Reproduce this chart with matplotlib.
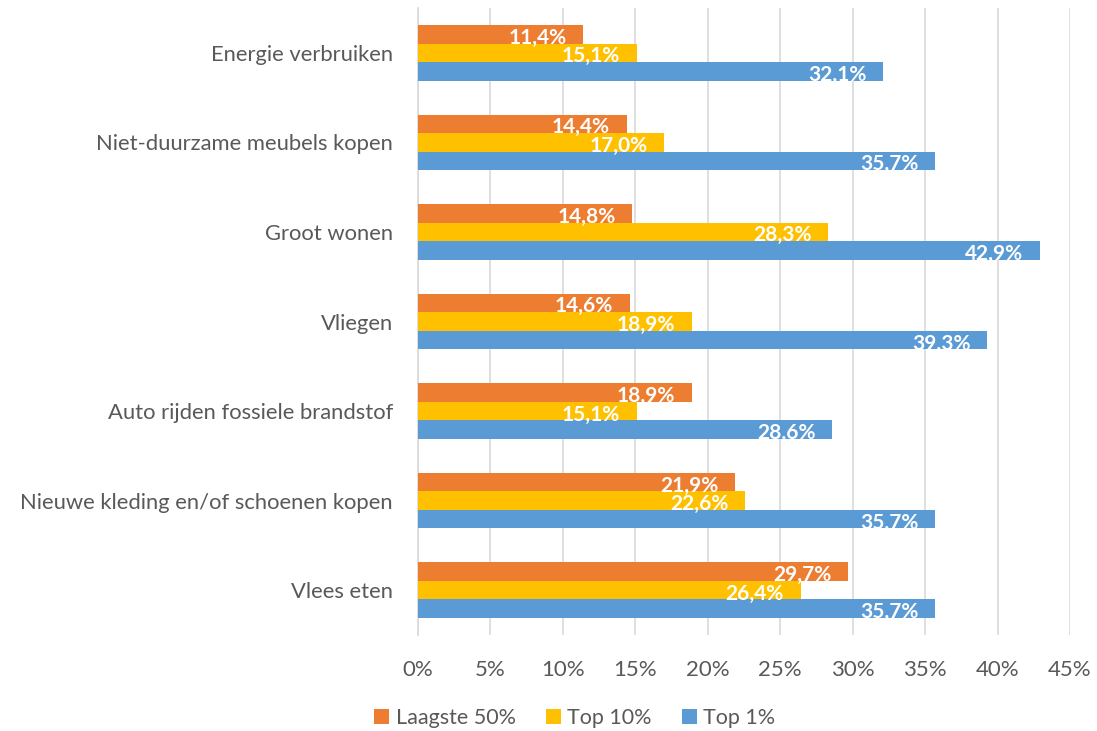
import matplotlib
matplotlib.use("Agg")
import matplotlib.pyplot as plt
from matplotlib.patches import Patch
import numpy as np

categories = [
    "Energie verbruiken",
    "Niet-duurzame meubels kopen",
    "Groot wonen",
    "Vliegen",
    "Auto rijden fossiele brandstof",
    "Nieuwe kleding en/of schoenen kopen",
    "Vlees eten",
]
series_names = ["Laagste 50%", "Top 10%", "Top 1%"]
laagste_50 = [11.4, 14.4, 14.8, 14.6, 18.9, 21.9, 29.7]
top_10 = [15.1, 17.0, 28.3, 18.9, 15.1, 22.6, 26.4]
top_1 = [32.1, 35.7, 42.9, 39.3, 28.6, 35.7, 35.7]
x_ticks = [0, 5, 10, 15, 20, 25, 30, 35, 40, 45]

colors = ["#ED7D31", "#FFC000", "#5B9BD5"]
plt.rcParams["font.family"] = ["Lato", "DejaVu Sans"]

fig = plt.figure(figsize=(10.97, 7.31), dpi=100)
ax = fig.add_axes([418 / 1097, 1 - 635 / 731, (1070 - 418) / 1097, (635 - 8) / 731])

n = len(categories)
y = np.arange(n)
bar_h = 0.207
offsets = [-bar_h, 0, bar_h]
values = [laagste_50, top_10, top_1]

for vals, off, col in zip(values, offsets, colors):
    bars = ax.barh(y + off, vals, height=bar_h, color=col, zorder=3)
    for b, v in zip(bars, vals):
        ax.annotate(f"{v:.1f}%".replace(".", ","),
                    xy=(v, b.get_y() + b.get_height() / 2),
                    xytext=(-12, -2.5), textcoords="offset points",
                    ha="right", va="center", color="white",
                    fontsize=15, fontweight="bold", zorder=4)

ax.set_ylim(n - 0.5, -0.5)
ax.set_xlim(0, 45)
ax.set_yticks(y)
ax.set_yticklabels(categories, fontsize=15.8, color="#595959")
ax.set_xticks(x_ticks)
ax.set_xticklabels([f"{t}%" for t in x_ticks], fontsize=16, color="#595959")
ax.tick_params(axis="both", length=0)
ax.tick_params(axis="y", pad=18)
ax.tick_params(axis="x", pad=18)

ax.grid(axis="x", color="#D9D9D9", linewidth=1.2, zorder=0)
for s in ["top", "right", "bottom"]:
    ax.spines[s].set_visible(False)
ax.spines["left"].set_color("#D9D9D9")
ax.spines["left"].set_linewidth(1.2)

handles = [Patch(facecolor=c, edgecolor="none") for c in colors]
fig.legend(handles, series_names, loc="center", bbox_to_anchor=(0.524, 0.018),
           ncol=3, frameon=False, fontsize=15.5, handlelength=0.7, handleheight=0.7,
           handletextpad=0.3, columnspacing=1.4, labelcolor="#595959")

fig.savefig("out.png", dpi=100)
